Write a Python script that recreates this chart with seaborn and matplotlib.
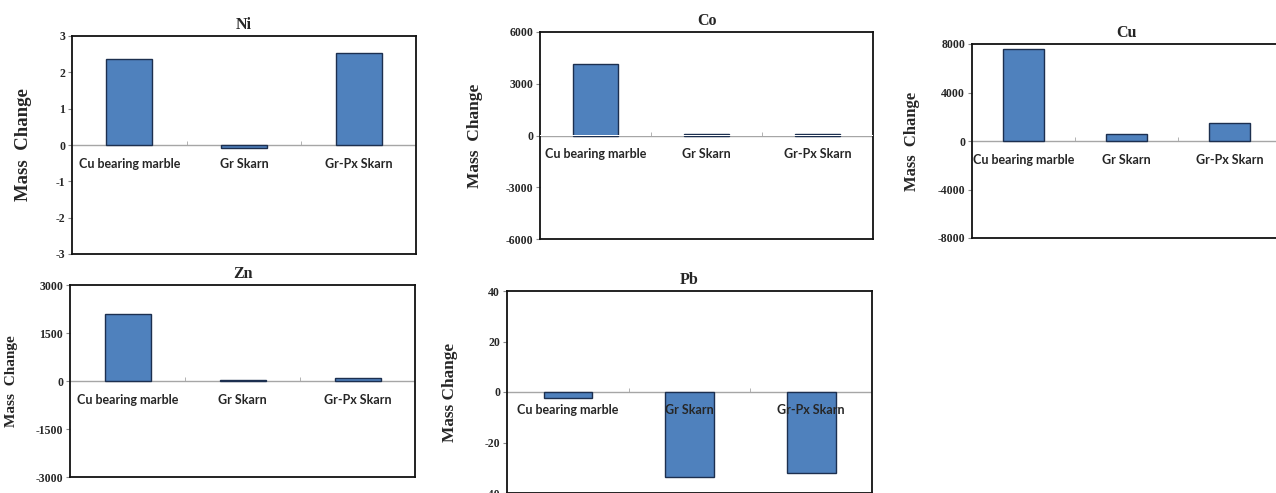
import matplotlib
matplotlib.use('Agg')
import matplotlib.pyplot as plt
import seaborn as sns

categories = ['Cu bearing marble', 'Gr Skarn', 'Gr-Px Skarn']

ni_values = [2.37, -0.09, 2.52]
co_values = [4150, 80, 70]
cu_values = [7600, 560, 1500]
zn_values = [2080, 25, 90]
pb_values = [-2.3, -33.7, -32.1]

ni_ticks = [-3, -2, -1, 0, 1, 2, 3]
co_ticks = [-6000, -3000, 0, 3000, 6000]
cu_ticks = [-8000, -4000, 0, 4000, 8000]
zn_ticks = [-3000, -1500, 0, 1500, 3000]
pb_ticks = [-40, -20, 0, 20, 40]

sns.set_style('white')
plt.rcParams['axes.unicode_minus'] = False

W, H = 1276, 493
fig = plt.figure(figsize=(W / 100, H / 100), dpi=100)

bar_color = '#4F81BD'
edge_color = '#1C2F4F'
serif = 'Liberation Serif'
sans = 'Lato'

# (name, values, ticks, left, right, top, bottom px, ylabel, label offset px, label size)
panels = [
    ('Ni', ni_values, ni_ticks, 72, 416, 36, 254, 'Mass  Change', 40, 13.5),
    ('Co', co_values, co_ticks, 540, 873, 32, 239, 'Mass  Change', 57, 12.5),
    ('Cu', cu_values, cu_ticks, 972, 1281, 44, 238, 'Mass  Change', 52, 12),
    ('Zn', zn_values, zn_ticks, 70, 415, 285, 477, 'Mass  Change', 52, 11),
    ('Pb', pb_values, pb_ticks, 507, 872, 291, 493, 'Mass Change', 49, 12.4),
]

for name, vals, ticks, l, r, t, b, ylab, off, lsize in panels:
    ax = fig.add_axes([l / W, (H - b) / H, (r - l) / W, (b - t) / H])
    ax.axhline(0, color='#a6a6a6', linewidth=1, zorder=0.5)
    sns.barplot(x=categories, y=vals, ax=ax, color=bar_color, saturation=1,
                edgecolor=edge_color, linewidth=1, width=0.4, zorder=2)
    ax.set_ylim(ticks[0], ticks[-1])
    ax.set_xlim(-0.5, 2.5)
    ax.set_yticks(ticks)
    ax.set_yticklabels([str(v) for v in ticks], fontfamily=serif,
                       fontweight='bold', fontsize=8.5)
    ax.tick_params(axis='y', left=True, length=3, width=0.8, color='#888888', pad=2)
    ax.tick_params(axis='x', bottom=False, labelbottom=False)
    ax.set_xlabel('')
    for sp in ax.spines.values():
        sp.set_visible(True)
        sp.set_color('#111111')
        sp.set_linewidth(1.3)

    # category labels on the zero line, drawn above the bars
    sec = ax.secondary_xaxis(0.5)
    sec.set_alignment('bottom')
    sec.set_zorder(10)
    sec.spines['bottom'].set_visible(False)
    sec.set_xticks([0, 1, 2])
    sec.set_xticklabels(categories, fontfamily=sans, fontweight='bold', fontsize=9)
    sec.set_xticks([0.5, 1.5], minor=True)
    sec.tick_params(axis='x', which='major', length=0, pad=9)
    sec.tick_params(axis='x', which='minor', length=3, direction='in', color='#a6a6a6')

    ax.set_title(name, fontfamily=serif, fontweight='bold', fontsize=11.5, pad=5)
    ax.set_ylabel(ylab, fontfamily=serif, fontweight='bold', fontsize=lsize)
    ax.yaxis.set_label_coords(-off / (r - l), 0.5)

fig.savefig('out.png', dpi=100, facecolor='white')
